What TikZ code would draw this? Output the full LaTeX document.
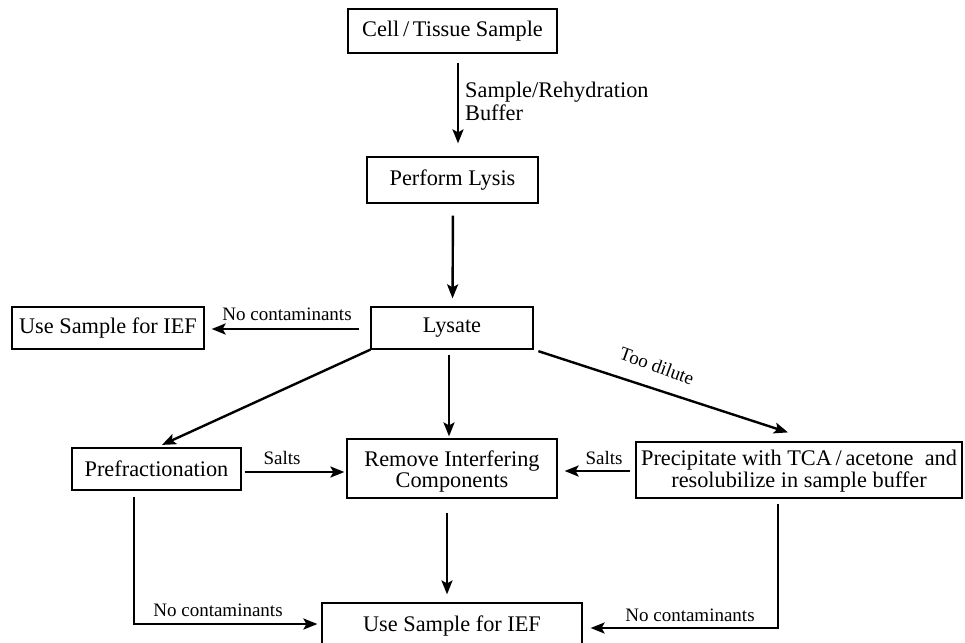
\documentclass[tikz,border=0pt]{standalone}
\usepackage{fontspec}
\setmainfont{Liberation Serif}
\usetikzlibrary{arrows.meta,calc}
\tikzset{
  box/.style={draw, line width=1.2pt, inner sep=0pt, align=center, font=\fontsize{22.3}{21.5}\selectfont},
  arr/.style={line width=2.4pt, -{Stealth[length=14pt,width=11pt,inset=3pt]}},
  lbl/.style={font=\fontsize{19}{23}\selectfont, inner sep=0pt},
  biglbl/.style={font=\fontsize{22.3}{23}\selectfont, inner sep=0pt},
}
\newcommand{\lowered}[2]{\raisebox{-#1}[\height][\depth]{#2}}
\begin{document}
\begin{tikzpicture}[x=1pt,y=-1pt]
\useasboundingbox (0,0) rectangle (965,642);
% boxes
\node[box, minimum width=209pt, minimum height=44pt] (cell) at (452.5,31) {Cell\,/\,Tissue Sample};
\node[box, minimum width=171pt, minimum height=46pt] (lysis) at (452.5,180) {Perform Lysis};
\node[box, minimum width=162pt, minimum height=42pt] (lysate) at (452,328) {Lysate};
\node[box, minimum width=192pt, minimum height=42pt] (useL) at (108,328) {Use Sample for IEF};
\node[box, minimum width=169pt, minimum height=42pt] (prefrac) at (156.5,469) {Prefractionation};
\node[box, minimum width=210pt, minimum height=59pt] (remove) at (452,468.5) {\lowered{4pt}{\begin{tabular}{@{}c@{}}Remove Interfering\\Components\end{tabular}}};
\node[box, minimum width=326pt, minimum height=56pt] (precip) at (799,470) {\lowered{2pt}{\begin{tabular}{@{}c@{}}Precipitate with TCA\,/\,acetone\ \ and\\resolubilize in sample buffer\end{tabular}}};
\node[box, minimum width=260pt, minimum height=46pt] (useB) at (452,626) {Use Sample for IEF};
% labels
\node[biglbl, anchor=west, align=left] (lbuf) at (465,101.5) {Sample/Rehydration\\Buffer};
\node[lbl] (lnc1) at (287,314) {No contaminants};
\node[lbl, rotate=-20] (ldil) at (657,366) {Too dilute};
\node[lbl] (ls1) at (282,458) {Salts};
\node[lbl] (ls2) at (604,458) {Salts};
\node[lbl] (lnc2) at (218,610) {No contaminants};
\node[lbl] (lnc3) at (690,615) {No contaminants};
% connectors
\draw[arr, shorten <=9pt, shorten >=13pt] ($(cell.south)+(5.5,0)$) -- ($(lysis.north)+(5.5,0)$);
\draw[arr, shorten <=12pt, shorten >=8pt] ($(lysis.south)+(0.5,0)$) -- ($(lysate.north)+(0.5,0)$);
\draw[arr, shorten <=11pt, shorten >=7pt] ($(lysate.west)+(0,1)$) -- ($(useL.east)+(0,1)$);
\draw[arr, shorten >=6pt] (lysate.south west) -- (prefrac.north);
\draw[arr, shorten <=5pt, shorten >=2pt] ($(lysate.south)+(-3,0)$) -- ($(remove.north)+(-3,0)$);
\draw[arr, shorten <=5pt] (lysate.south east) -- ($(precip.north)+(-11,-9)$);
\draw[arr, shorten <=3pt, shorten >=2pt] ($(prefrac.east)+(0,3)$) -- ($(remove.west)+(0,3.5)$);
\draw[arr, shorten <=5pt, shorten >=7pt] ($(precip.west)+(0,1)$) -- ($(remove.east)+(0,2.5)$);
\draw[arr, shorten <=14pt, shorten >=8pt] ($(remove.south)+(-5,0)$) -- ($(useB.north)+(-5,0)$);
\draw[arr, shorten <=6pt, shorten >=4pt] ($(prefrac.south)+(-22.5,0)$) |- ($(useB.west)+(0,-2)$);
\draw[arr, shorten <=5pt, shorten >=8pt] ($(precip.south)+(-21,0)$) |- ($(useB.east)+(0,2)$);
\end{tikzpicture}
\end{document}
